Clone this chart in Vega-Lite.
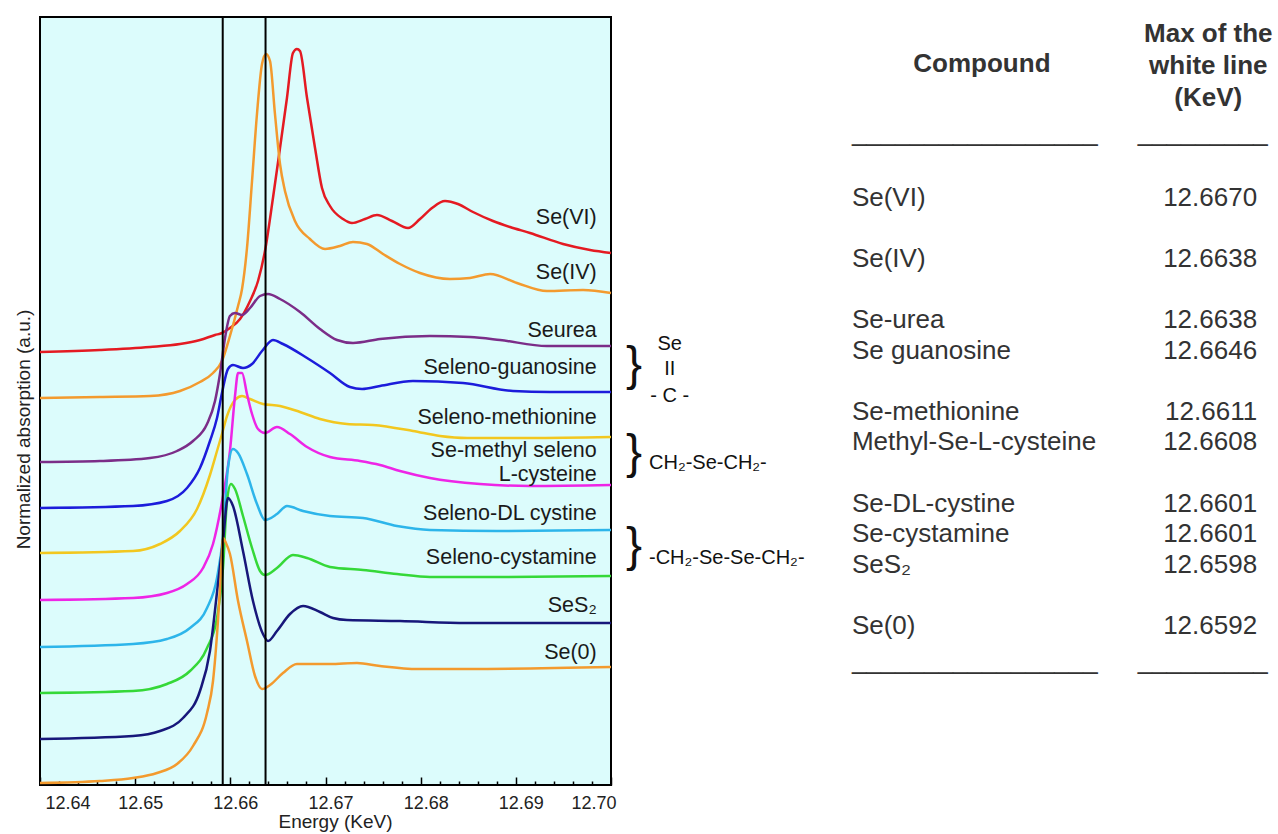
{
  "$schema": "https://vega.github.io/schema/vega-lite/v6.json",
  "padding": {"left": 13, "top": 15, "right": 0, "bottom": 0},
  "bounds": "flush",
  "spacing": 0,
  "background": "#ffffff",
  "config": {
    "font": "Liberation Sans",
    "text": {"font": "Liberation Sans"},
    "axis": {"labelFont": "Liberation Sans", "titleFont": "Liberation Sans"}
  },
  "datasets": {
    "spectra": [
      {"s":"Se(VI)","e":12.64,"a":433},{"s":"Se(VI)","e":12.6463,"a":435},{"s":"Se(VI)","e":12.65156,"a":438},{"s":"Se(VI)","e":12.65471,"a":441},{"s":"Se(VI)","e":12.65681,"a":445},{"s":"Se(VI)","e":12.65839,"a":450},{"s":"Se(VI)","e":12.65912,"a":452},{"s":"Se(VI)","e":12.65996,"a":457},{"s":"Se(VI)","e":12.66102,"a":466},{"s":"Se(VI)","e":12.66207,"a":484},{"s":"Se(VI)","e":12.66291,"a":504},{"s":"Se(VI)","e":12.66364,"a":534},{"s":"Se(VI)","e":12.66448,"a":587},{"s":"Se(VI)","e":12.66522,"a":637},{"s":"Se(VI)","e":12.66595,"a":687},{"s":"Se(VI)","e":12.66658,"a":732},{"s":"Se(VI)","e":12.667,"a":736},{"s":"Se(VI)","e":12.66732,"a":734},{"s":"Se(VI)","e":12.66806,"a":687},{"s":"Se(VI)","e":12.6689,"a":637},{"s":"Se(VI)","e":12.66963,"a":597},{"s":"Se(VI)","e":12.67047,"a":579},{"s":"Se(VI)","e":12.67184,"a":566},{"s":"Se(VI)","e":12.67278,"a":562},{"s":"Se(VI)","e":12.67415,"a":566},{"s":"Se(VI)","e":12.67541,"a":570},{"s":"Se(VI)","e":12.67699,"a":564},{"s":"Se(VI)","e":12.67867,"a":557},{"s":"Se(VI)","e":12.67993,"a":566},{"s":"Se(VI)","e":12.68119,"a":577},{"s":"Se(VI)","e":12.68256,"a":584},{"s":"Se(VI)","e":12.68392,"a":581},{"s":"Se(VI)","e":12.6855,"a":573},{"s":"Se(VI)","e":12.6876,"a":564},{"s":"Se(VI)","e":12.68939,"a":558},{"s":"Se(VI)","e":12.69149,"a":552},{"s":"Se(VI)","e":12.69496,"a":541},{"s":"Se(VI)","e":12.6978,"a":535},{"s":"Se(VI)","e":12.7,"a":532},
      {"s":"Se(IV)","e":12.64,"a":387},{"s":"Se(IV)","e":12.6463,"a":388},{"s":"Se(IV)","e":12.65156,"a":389},{"s":"Se(IV)","e":12.65471,"a":394},{"s":"Se(IV)","e":12.65681,"a":403},{"s":"Se(IV)","e":12.65818,"a":412},{"s":"Se(IV)","e":12.65912,"a":424},{"s":"Se(IV)","e":12.65996,"a":449},{"s":"Se(IV)","e":12.66081,"a":479},{"s":"Se(IV)","e":12.66123,"a":496},{"s":"Se(IV)","e":12.66175,"a":537},{"s":"Se(IV)","e":12.66228,"a":604},{"s":"Se(IV)","e":12.6628,"a":671},{"s":"Se(IV)","e":12.66333,"a":721},{"s":"Se(IV)","e":12.66375,"a":731},{"s":"Se(IV)","e":12.66417,"a":724},{"s":"Se(IV)","e":12.66469,"a":671},{"s":"Se(IV)","e":12.66522,"a":621},{"s":"Se(IV)","e":12.66574,"a":594},{"s":"Se(IV)","e":12.66679,"a":564},{"s":"Se(IV)","e":12.66837,"a":546},{"s":"Se(IV)","e":12.66995,"a":536},{"s":"Se(IV)","e":12.67152,"a":539},{"s":"Se(IV)","e":12.67289,"a":543},{"s":"Se(IV)","e":12.67436,"a":541},{"s":"Se(IV)","e":12.67604,"a":531},{"s":"Se(IV)","e":12.67783,"a":521},{"s":"Se(IV)","e":12.67993,"a":512},{"s":"Se(IV)","e":12.68308,"a":506},{"s":"Se(IV)","e":12.68518,"a":507},{"s":"Se(IV)","e":12.68729,"a":511},{"s":"Se(IV)","e":12.69012,"a":502},{"s":"Se(IV)","e":12.69327,"a":494},{"s":"Se(IV)","e":12.69706,"a":495},{"s":"Se(IV)","e":12.7,"a":492},
      {"s":"Seurea","e":12.64,"a":323},{"s":"Seurea","e":12.6463,"a":324},{"s":"Seurea","e":12.65156,"a":327},{"s":"Seurea","e":12.6544,"a":334},{"s":"Seurea","e":12.65608,"a":344},{"s":"Seurea","e":12.65755,"a":361},{"s":"Seurea","e":12.65839,"a":384},{"s":"Seurea","e":12.65891,"a":411},{"s":"Seurea","e":12.65944,"a":447},{"s":"Seurea","e":12.65996,"a":469},{"s":"Seurea","e":12.66049,"a":472},{"s":"Seurea","e":12.66123,"a":470},{"s":"Seurea","e":12.66207,"a":477},{"s":"Seurea","e":12.66312,"a":489},{"s":"Seurea","e":12.66396,"a":491},{"s":"Seurea","e":12.66522,"a":486},{"s":"Seurea","e":12.66732,"a":473},{"s":"Seurea","e":12.66942,"a":456},{"s":"Seurea","e":12.67121,"a":445},{"s":"Seurea","e":12.67289,"a":442},{"s":"Seurea","e":12.67573,"a":446},{"s":"Seurea","e":12.68098,"a":449},{"s":"Seurea","e":12.68518,"a":448},{"s":"Seurea","e":12.68834,"a":445},{"s":"Seurea","e":12.69327,"a":439},{"s":"Seurea","e":12.7,"a":439},
      {"s":"Seleno-guanosine","e":12.64,"a":277},{"s":"Seleno-guanosine","e":12.64977,"a":279},{"s":"Seleno-guanosine","e":12.65334,"a":284},{"s":"Seleno-guanosine","e":12.65545,"a":297},{"s":"Seleno-guanosine","e":12.65681,"a":317},{"s":"Seleno-guanosine","e":12.65786,"a":344},{"s":"Seleno-guanosine","e":12.6586,"a":367},{"s":"Seleno-guanosine","e":12.65912,"a":392},{"s":"Seleno-guanosine","e":12.65975,"a":416},{"s":"Seleno-guanosine","e":12.66028,"a":420},{"s":"Seleno-guanosine","e":12.66133,"a":417},{"s":"Seleno-guanosine","e":12.66228,"a":421},{"s":"Seleno-guanosine","e":12.66333,"a":434},{"s":"Seleno-guanosine","e":12.66448,"a":445},{"s":"Seleno-guanosine","e":12.66553,"a":441},{"s":"Seleno-guanosine","e":12.66806,"a":427},{"s":"Seleno-guanosine","e":12.67047,"a":412},{"s":"Seleno-guanosine","e":12.67257,"a":398},{"s":"Seleno-guanosine","e":12.67384,"a":396},{"s":"Seleno-guanosine","e":12.67573,"a":399},{"s":"Seleno-guanosine","e":12.67919,"a":404},{"s":"Seleno-guanosine","e":12.68445,"a":402},{"s":"Seleno-guanosine","e":12.6897,"a":394},{"s":"Seleno-guanosine","e":12.69359,"a":393},{"s":"Seleno-guanosine","e":12.7,"a":393},
      {"s":"Seleno-methionine","e":12.64,"a":232},{"s":"Seleno-methionine","e":12.64977,"a":234},{"s":"Seleno-methionine","e":12.65261,"a":241},{"s":"Seleno-methionine","e":12.65471,"a":254},{"s":"Seleno-methionine","e":12.6565,"a":276},{"s":"Seleno-methionine","e":12.65786,"a":310},{"s":"Seleno-methionine","e":12.6586,"a":334},{"s":"Seleno-methionine","e":12.65912,"a":351},{"s":"Seleno-methionine","e":12.65965,"a":369},{"s":"Seleno-methionine","e":12.66049,"a":385},{"s":"Seleno-methionine","e":12.66123,"a":389},{"s":"Seleno-methionine","e":12.66207,"a":386},{"s":"Seleno-methionine","e":12.66343,"a":381},{"s":"Seleno-methionine","e":12.66522,"a":379},{"s":"Seleno-methionine","e":12.66732,"a":373},{"s":"Seleno-methionine","e":12.66942,"a":366},{"s":"Seleno-methionine","e":12.67226,"a":361},{"s":"Seleno-methionine","e":12.67499,"a":360},{"s":"Seleno-methionine","e":12.67919,"a":354},{"s":"Seleno-methionine","e":12.68203,"a":349},{"s":"Seleno-methionine","e":12.68487,"a":347},{"s":"Seleno-methionine","e":12.69149,"a":347},{"s":"Seleno-methionine","e":12.7,"a":348},
      {"s":"Se-methyl seleno L-cysteine","e":12.64,"a":185},{"s":"Se-methyl seleno L-cysteine","e":12.64977,"a":187},{"s":"Se-methyl seleno L-cysteine","e":12.65334,"a":192},{"s":"Se-methyl seleno L-cysteine","e":12.65545,"a":201},{"s":"Se-methyl seleno L-cysteine","e":12.65713,"a":217},{"s":"Se-methyl seleno L-cysteine","e":12.65818,"a":241},{"s":"Se-methyl seleno L-cysteine","e":12.65923,"a":289},{"s":"Se-methyl seleno L-cysteine","e":12.65996,"a":334},{"s":"Se-methyl seleno L-cysteine","e":12.66049,"a":389},{"s":"Se-methyl seleno L-cysteine","e":12.66081,"a":412},{"s":"Se-methyl seleno L-cysteine","e":12.66123,"a":412},{"s":"Se-methyl seleno L-cysteine","e":12.66175,"a":391},{"s":"Se-methyl seleno L-cysteine","e":12.66228,"a":371},{"s":"Se-methyl seleno L-cysteine","e":12.66291,"a":356},{"s":"Se-methyl seleno L-cysteine","e":12.66364,"a":352},{"s":"Se-methyl seleno L-cysteine","e":12.6649,"a":358},{"s":"Se-methyl seleno L-cysteine","e":12.66627,"a":351},{"s":"Se-methyl seleno L-cysteine","e":12.66806,"a":338},{"s":"Se-methyl seleno L-cysteine","e":12.67047,"a":328},{"s":"Se-methyl seleno L-cysteine","e":12.67362,"a":324},{"s":"Se-methyl seleno L-cysteine","e":12.67573,"a":320},{"s":"Se-methyl seleno L-cysteine","e":12.67783,"a":314},{"s":"Se-methyl seleno L-cysteine","e":12.68098,"a":307},{"s":"Se-methyl seleno L-cysteine","e":12.68623,"a":301},{"s":"Se-methyl seleno L-cysteine","e":12.69149,"a":299},{"s":"Se-methyl seleno L-cysteine","e":12.7,"a":300},
      {"s":"Seleno-DL cystine","e":12.64,"a":138},{"s":"Seleno-DL cystine","e":12.64977,"a":141},{"s":"Seleno-DL cystine","e":12.65334,"a":146},{"s":"Seleno-DL cystine","e":12.65576,"a":157},{"s":"Seleno-DL cystine","e":12.65755,"a":177},{"s":"Seleno-DL cystine","e":12.6586,"a":207},{"s":"Seleno-DL cystine","e":12.65923,"a":249},{"s":"Seleno-DL cystine","e":12.65975,"a":317},{"s":"Seleno-DL cystine","e":12.66028,"a":336},{"s":"Seleno-DL cystine","e":12.66081,"a":332},{"s":"Seleno-DL cystine","e":12.66175,"a":311},{"s":"Seleno-DL cystine","e":12.6628,"a":281},{"s":"Seleno-DL cystine","e":12.66364,"a":265},{"s":"Seleno-DL cystine","e":12.6649,"a":271},{"s":"Seleno-DL cystine","e":12.66595,"a":279},{"s":"Seleno-DL cystine","e":12.66764,"a":274},{"s":"Seleno-DL cystine","e":12.67047,"a":269},{"s":"Seleno-DL cystine","e":12.67394,"a":267},{"s":"Seleno-DL cystine","e":12.67751,"a":259},{"s":"Seleno-DL cystine","e":12.68098,"a":255},{"s":"Seleno-DL cystine","e":12.68802,"a":254},{"s":"Seleno-DL cystine","e":12.7,"a":255},
      {"s":"Seleno-cystamine","e":12.64,"a":92},{"s":"Seleno-cystamine","e":12.64977,"a":94},{"s":"Seleno-cystamine","e":12.65334,"a":101},{"s":"Seleno-cystamine","e":12.65576,"a":114},{"s":"Seleno-cystamine","e":12.65755,"a":137},{"s":"Seleno-cystamine","e":12.6586,"a":167},{"s":"Seleno-cystamine","e":12.65923,"a":217},{"s":"Seleno-cystamine","e":12.65965,"a":284},{"s":"Seleno-cystamine","e":12.66007,"a":301},{"s":"Seleno-cystamine","e":12.66049,"a":296},{"s":"Seleno-cystamine","e":12.66133,"a":269},{"s":"Seleno-cystamine","e":12.66228,"a":237},{"s":"Seleno-cystamine","e":12.66312,"a":214},{"s":"Seleno-cystamine","e":12.66364,"a":210},{"s":"Seleno-cystamine","e":12.6649,"a":217},{"s":"Seleno-cystamine","e":12.66658,"a":230},{"s":"Seleno-cystamine","e":12.66806,"a":227},{"s":"Seleno-cystamine","e":12.67047,"a":218},{"s":"Seleno-cystamine","e":12.67394,"a":215},{"s":"Seleno-cystamine","e":12.67751,"a":211},{"s":"Seleno-cystamine","e":12.68098,"a":208},{"s":"Seleno-cystamine","e":12.68802,"a":208},{"s":"Seleno-cystamine","e":12.7,"a":209},
      {"s":"SeS2","e":12.64,"a":46},{"s":"SeS2","e":12.64977,"a":49},{"s":"SeS2","e":12.65261,"a":54},{"s":"SeS2","e":12.65503,"a":67},{"s":"SeS2","e":12.65681,"a":94},{"s":"SeS2","e":12.65786,"a":134},{"s":"SeS2","e":12.6587,"a":201},{"s":"SeS2","e":12.65923,"a":244},{"s":"SeS2","e":12.65975,"a":287},{"s":"SeS2","e":12.66028,"a":279},{"s":"SeS2","e":12.66133,"a":234},{"s":"SeS2","e":12.66238,"a":184},{"s":"SeS2","e":12.66343,"a":151},{"s":"SeS2","e":12.66396,"a":144},{"s":"SeS2","e":12.6649,"a":154},{"s":"SeS2","e":12.66627,"a":171},{"s":"SeS2","e":12.66764,"a":179},{"s":"SeS2","e":12.66942,"a":173},{"s":"SeS2","e":12.67079,"a":167},{"s":"SeS2","e":12.67226,"a":165},{"s":"SeS2","e":12.67783,"a":164},{"s":"SeS2","e":12.68487,"a":162},{"s":"SeS2","e":12.7,"a":162},
      {"s":"Se(0)","e":12.64,"a":2},{"s":"Se(0)","e":12.6463,"a":4},{"s":"Se(0)","e":12.64977,"a":7},{"s":"Se(0)","e":12.65229,"a":12},{"s":"Se(0)","e":12.6544,"a":21},{"s":"Se(0)","e":12.65608,"a":39},{"s":"Se(0)","e":12.65755,"a":72},{"s":"Se(0)","e":12.65818,"a":104},{"s":"Se(0)","e":12.6587,"a":164},{"s":"Se(0)","e":12.65902,"a":214},{"s":"Se(0)","e":12.65923,"a":247},{"s":"Se(0)","e":12.65954,"a":242},{"s":"Se(0)","e":12.65996,"a":231},{"s":"Se(0)","e":12.66081,"a":184},{"s":"Se(0)","e":12.66175,"a":144},{"s":"Se(0)","e":12.66259,"a":109},{"s":"Se(0)","e":12.66333,"a":96},{"s":"Se(0)","e":12.66417,"a":100},{"s":"Se(0)","e":12.66553,"a":112},{"s":"Se(0)","e":12.667,"a":121},{"s":"Se(0)","e":12.67047,"a":121},{"s":"Se(0)","e":12.67331,"a":122},{"s":"Se(0)","e":12.67573,"a":119},{"s":"Se(0)","e":12.67972,"a":116},{"s":"Se(0)","e":12.68487,"a":116},{"s":"Se(0)","e":12.7,"a":118}
    ],
    "labels": [
      {"label":"Se(VI)","e":12.6985,"a":567},
      {"label":"Se(IV)","e":12.6985,"a":512},
      {"label":"Seurea","e":12.6985,"a":454},
      {"label":"Seleno-guanosine","e":12.6985,"a":417},
      {"label":"Seleno-methionine","e":12.6985,"a":367},
      {"label":"Se-methyl seleno","e":12.6985,"a":334},
      {"label":"L-cysteine","e":12.6985,"a":310},
      {"label":"Seleno-DL cystine","e":12.6985,"a":271},
      {"label":"Seleno-cystamine","e":12.6985,"a":227},
      {"label":"SeS₂","e":12.6985,"a":179},
      {"label":"Se(0)","e":12.6985,"a":132}
    ],
    "edges": [{"e":12.6592,"ref":"Se(0)"},{"e":12.6637,"ref":"Se(IV)"}],
    "table": [
      {"compound":"Se(VI)","max":12.667,"line":0},
      {"compound":"Se(IV)","max":12.6638,"line":2},
      {"compound":"Se-urea","max":12.6638,"line":4},
      {"compound":"Se guanosine","max":12.6646,"line":5},
      {"compound":"Se-methionine","max":12.6611,"line":7},
      {"compound":"Methyl-Se-L-cysteine","max":12.6608,"line":8},
      {"compound":"Se-DL-cystine","max":12.6601,"line":10},
      {"compound":"Se-cystamine","max":12.6601,"line":11},
      {"compound":"SeS₂","max":12.6598,"line":12},
      {"compound":"Se(0)","max":12.6592,"line":14}
    ]
  },
  "hconcat": [
    {
      "width": 571,
      "height": 768,
      "view": {"fill": "#DCFCFC", "stroke": "#000000", "strokeWidth": 2},
      "resolve": {"axis": {"x": "independent"}},
      "layer": [
        {
          "data": {"name": "spectra"},
          "mark": {"type": "line", "interpolate": "monotone", "strokeWidth": 2.5},
          "encoding": {
            "x": {"field": "e", "type": "quantitative",
              "scale": {"domain": [12.64, 12.70], "nice": false, "zero": false},
              "axis": {"orient": "bottom", "values": [12.64, 12.65, 12.66, 12.67, 12.68, 12.69, 12.70], "format": ".2f",
                "title": "Energy (KeV)", "titleFontSize": 19, "titleFontWeight": "normal", "titleColor": "#222222",
                "titleX": 295,
                "labelFontSize": 18, "labelColor": "#222222", "labelPadding": 17, "labelOffset": 5, "titlePadding": 0,
                "tickSize": -8, "tickColor": "#000000", "tickWidth": 1.5, "domain": false, "grid": false}},
            "y": {"field": "a", "type": "quantitative",
              "scale": {"domain": [0, 768], "nice": false, "zero": false},
              "axis": {"labels": false, "ticks": false, "domain": false, "grid": false,
                "title": "Normalized absorption (a.u.)", "titleFontSize": 19, "titleFontWeight": "normal",
                "titleColor": "#222222", "titlePadding": 7, "titleY": 412}},
            "color": {"field": "s", "type": "nominal", "legend": null,
              "scale": {"domain": ["Se(VI)", "Se(IV)", "Seurea", "Seleno-guanosine", "Seleno-methionine", "Se-methyl seleno L-cysteine", "Seleno-DL cystine", "Seleno-cystamine", "SeS2", "Se(0)"],
                "range": ["#E41A22", "#F39A2E", "#7B2D88", "#1C1CDB", "#F2C71F", "#EE25E6", "#2DB5EA", "#35D838", "#17177A", "#F39A2E"]}}
          }
        },
        {
          "data": {"name": "edges"},
          "mark": {"type": "rule", "color": "#000000", "strokeWidth": 2},
          "encoding": {
            "x": {"field": "e", "type": "quantitative",
              "axis": {"orient": "bottom", "values": [12.642, 12.644, 12.646, 12.648, 12.652, 12.654, 12.656, 12.658, 12.662, 12.664, 12.666, 12.668, 12.672, 12.674, 12.676, 12.678, 12.682, 12.684, 12.686, 12.688, 12.692, 12.694, 12.696, 12.698],
                "labels": false, "title": null, "tickSize": -4, "tickColor": "#000000", "tickWidth": 1.5, "domain": false, "grid": false}}
          }
        },
        {
          "data": {"name": "labels"},
          "mark": {"type": "text", "align": "right", "baseline": "middle", "fontSize": 21.5, "color": "#1a1a1a"},
          "encoding": {
            "x": {"field": "e", "type": "quantitative", "axis": null},
            "y": {"field": "a", "type": "quantitative"},
            "text": {"field": "label"}
          }
        }
      ]
    },
    {
      "width": 660,
      "height": 768,
      "view": {"stroke": null, "fill": null},
      "data": {"name": "table"},
      "encoding": {
        "y": {"field": "line", "type": "quantitative", "scale": {"domain": [-5.9, 19.2], "reverse": true, "nice": false, "zero": false}, "axis": null}
      },
      "layer": [
        {
          "mark": {"type": "text", "align": "left", "baseline": "middle", "fontSize": 26, "color": "#333333"},
          "encoding": {
            "x": {"datum": 36.5, "type": "quantitative", "scale": {"domain": [0, 100], "nice": false, "zero": false}, "axis": null},
            "text": {"field": "compound"}
          }
        },
        {
          "mark": {"type": "text", "align": "right", "baseline": "middle", "fontSize": 26, "color": "#333333"},
          "encoding": {
            "x": {"datum": 97.9, "type": "quantitative"},
            "text": {"field": "max", "type": "quantitative", "format": ".4f"}
          }
        },
        {
          "data": {"values": [{"h": "Compound", "line": -4.35}]},
          "mark": {"type": "text", "align": "center", "baseline": "middle", "fontSize": 26, "fontWeight": "bold", "color": "#333333"},
          "encoding": {"x": {"datum": 56.2, "type": "quantitative"}, "text": {"field": "h"}}
        },
        {
          "data": {"values": [{"h": "Max of the", "line": -5.33}, {"h": "white line", "line": -4.3}, {"h": "(KeV)", "line": -3.25}]},
          "mark": {"type": "text", "align": "center", "baseline": "middle", "fontSize": 26, "fontWeight": "bold", "color": "#333333"},
          "encoding": {"x": {"datum": 90.5, "type": "quantitative"}, "text": {"field": "h"}}
        },
        {
          "data": {"values": [{"t": "_________________", "line": -2.12}, {"t": "_________________", "line": 15.16}]},
          "mark": {"type": "text", "align": "left", "baseline": "middle", "fontSize": 26, "color": "#333333"},
          "encoding": {"x": {"datum": 36.5, "type": "quantitative"}, "text": {"field": "t"}}
        },
        {
          "data": {"values": [{"t": "_________", "line": -2.12}, {"t": "_________", "line": 15.16}]},
          "mark": {"type": "text", "align": "left", "baseline": "middle", "fontSize": 26, "color": "#333333"},
          "encoding": {"x": {"datum": 79.8, "type": "quantitative"}, "text": {"field": "t"}}
        },
        {
          "data": {"values": [{"group": "Se=C", "line": 5.5}, {"group": "CH2-Se-CH2", "line": 8.37}, {"group": "CH2-Se-Se-CH2", "line": 11.43}]},
          "mark": {"type": "text", "align": "center", "baseline": "middle", "fontSize": 48, "color": "#111111", "text": "}"},
          "encoding": {"x": {"datum": 3.5, "type": "quantitative"}}
        },
        {
          "data": {"values": [{"t": "Se", "line": 4.79}, {"t": "II", "line": 5.6}, {"t": "- C -", "line": 6.49}]},
          "mark": {"type": "text", "align": "center", "baseline": "middle", "fontSize": 20, "color": "#111111"},
          "encoding": {"x": {"datum": 8.9, "type": "quantitative"}, "text": {"field": "t"}}
        },
        {
          "data": {"values": [{"t": "CH₂-Se-CH₂-", "line": 8.68}, {"t": "-CH₂-Se-Se-CH₂-", "line": 11.78}]},
          "mark": {"type": "text", "align": "left", "baseline": "middle", "fontSize": 20, "color": "#111111"},
          "encoding": {"x": {"datum": 5.76, "type": "quantitative"}, "text": {"field": "t"}}
        }
      ]
    }
  ]
}
